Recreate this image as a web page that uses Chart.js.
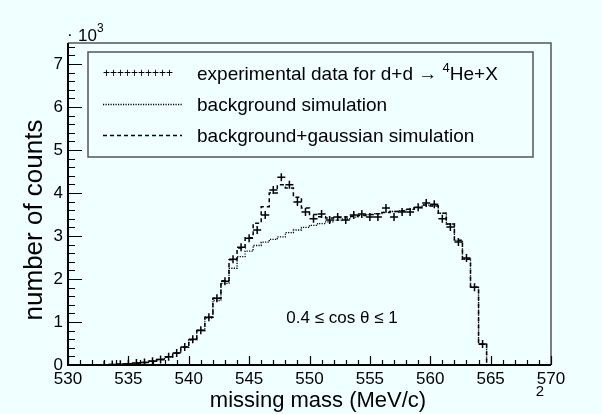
<!DOCTYPE html>
<html>
<head>
<meta charset="utf-8">
<script src="https://cdn.jsdelivr.net/npm/chart.js@4.4.0/dist/chart.umd.min.js"></script>
<style>
  html, body { margin: 0; padding: 0; background: #f0ffff; }
  #wrap { width: 602px; height: 414px; }
</style>
</head>
<body>
<div id="wrap"><canvas id="massChart" width="602" height="414"></canvas></div>
<script>
// histogram: 60 bins of 2/3 MeV between 530 and 570 MeV
const binLow = 530;
const binHigh = 570;
const nBins = 60;

// experimental counts per bin
const dataCounts = [
  0, 0, 0, 0, 5, 10, 18, 30, 45, 60,
  90, 130, 190, 280, 420, 600, 810, 1110, 1550, 1950,
  2460, 2740, 2950, 3140, 3490, 4070, 4370, 4190, 3790, 3560,
  3400, 3510, 3370, 3440, 3370, 3490, 3510, 3440, 3440, 3650,
  3440, 3560, 3560, 3670, 3770, 3740, 3400, 3210, 2860, 2490,
  1810, 490, 0, 0, 0, 0, 0, 0, 0, 0
];

// background + gaussian simulation
const bgGausCounts = [
  0, 0, 0, 0, 4, 9, 17, 28, 42, 60,
  88, 128, 188, 278, 410, 590, 800, 1110, 1550, 1960,
  2450, 2720, 2960, 3300, 3680, 4000, 4190, 4120, 3900, 3650,
  3500, 3450, 3420, 3430, 3440, 3460, 3480, 3500, 3520, 3550,
  3570, 3590, 3620, 3660, 3720, 3700, 3530, 3280, 2900, 2460,
  1810, 480, 0, 0, 0, 0, 0, 0, 0, 0
];

// background only simulation
const bgCounts = [
  0, 0, 0, 0, 4, 9, 17, 28, 42, 60,
  88, 128, 188, 278, 410, 590, 800, 1090, 1500, 1900,
  2250, 2520, 2650, 2780, 2860, 2920, 2980, 3080, 3140, 3200,
  3250, 3290, 3330, 3370, 3400, 3440, 3480, 3500, 3520, 3550,
  3570, 3590, 3620, 3660, 3720, 3700, 3530, 3280, 2900, 2460,
  1810, 480, 0, 0, 0, 0, 0, 0, 0, 0
];

const xTicks = [530, 535, 540, 545, 550, 555, 560, 565, 570];
const yTicks = [0, 1000, 2000, 3000, 4000, 5000, 6000, 7000];
const yMax = 7490;

const fontFamily = '"Liberation Sans", Arial, Helvetica, sans-serif';
const binWidth = (binHigh - binLow) / nBins;

// step outline: one point per bin low edge, plus the closing edge
function stepPoints(vals) {
  const pts = vals.map((v, k) => ({ x: binLow + k * binWidth, y: v }));
  pts.push({ x: binHigh, y: vals[vals.length - 1] });
  return pts;
}

const crossPoints = dataCounts.map((v, k) => ({ x: binLow + (k + 0.5) * binWidth, y: v }));

// frame, inward ticks, legend and free texts (ROOT look)
const rootDecor = {
  id: 'rootDecor',
  afterDatasetsDraw(chart) {
    const { ctx, chartArea: a, scales } = chart;
    const xs = scales.x, ys = scales.y;
    ctx.save();

    // frame
    ctx.strokeStyle = '#555';
    ctx.lineWidth = 1.5;
    ctx.beginPath();
    ctx.moveTo(a.left, a.top);
    ctx.lineTo(a.right, a.top);
    ctx.lineTo(a.right, a.bottom);
    ctx.stroke();
    ctx.strokeStyle = '#000';
    ctx.lineWidth = 2;
    ctx.beginPath();
    ctx.moveTo(a.left, a.top);
    ctx.lineTo(a.left, a.bottom);
    ctx.lineTo(a.right, a.bottom);
    ctx.stroke();

    // ticks
    ctx.lineWidth = 1.2;
    ctx.beginPath();
    for (let v = binLow; v <= binHigh; v += 1) {
      const px = Math.round(xs.getPixelForValue(v)) + 0.5;
      const len = v % 5 === 0 ? 9 : 5;
      ctx.moveTo(px, a.bottom);
      ctx.lineTo(px, a.bottom - len);
    }
    for (let v = 0; v <= yMax; v += 200) {
      const py = Math.round(ys.getPixelForValue(v)) + 0.5;
      const len = v % 1000 === 0 ? 14 : 7;
      ctx.moveTo(a.left, py);
      ctx.lineTo(a.left + len, py);
    }
    ctx.stroke();

    // legend
    ctx.strokeStyle = '#555';
    ctx.lineWidth = 1.5;
    ctx.strokeRect(88, 52, 445, 105);
    ctx.fillStyle = '#000';
    ctx.textBaseline = 'alphabetic';
    ctx.font = '12px ' + fontFamily;
    ctx.fillText('++++++++++', 103, 77);
    ctx.strokeStyle = '#000';
    ctx.lineWidth = 1.3;
    ctx.setLineDash([1.2, 1.3]);
    ctx.beginPath();
    ctx.moveTo(103, 104.5);
    ctx.lineTo(182, 104.5);
    ctx.stroke();
    ctx.setLineDash([4, 3]);
    ctx.lineWidth = 1.5;
    ctx.beginPath();
    ctx.moveTo(103, 135.5);
    ctx.lineTo(182, 135.5);
    ctx.stroke();
    ctx.setLineDash([]);

    ctx.font = '19px ' + fontFamily;
    let tx = 197;
    const part1 = 'experimental data for d+d \u2192 ';
    ctx.fillText(part1, tx, 80);
    tx += ctx.measureText(part1).width;
    ctx.font = '13px ' + fontFamily;
    ctx.fillText('4', tx, 72);
    tx += ctx.measureText('4').width;
    ctx.font = '19px ' + fontFamily;
    ctx.fillText('He+X', tx, 80);
    ctx.fillText('background simulation', 197, 111);
    ctx.fillText('background+gaussian simulation', 197, 142);

    // exponent above y axis
    ctx.font = '17px ' + fontFamily;
    ctx.fillText('\u00b7', 67, 40);
    ctx.fillText('10', 78, 41);
    ctx.font = '12px ' + fontFamily;
    ctx.fillText('3', 97, 32);

    // cut annotation
    ctx.font = '17px ' + fontFamily;
    ctx.textAlign = 'center';
    ctx.fillText('0.4 \u2264 cos \u03b8 \u2264 1', 342, 323);

    // axis titles
    ctx.font = '22px ' + fontFamily;
    ctx.fillText('missing mass (MeV/c)', 318, 407);
    ctx.font = '15px ' + fontFamily;
    ctx.fillText('2', 540, 396);
    ctx.save();
    ctx.translate(42, 220);
    ctx.rotate(-Math.PI / 2);
    ctx.font = '26px ' + fontFamily;
    ctx.fillText('number of counts', 0, 0);
    ctx.restore();

    ctx.restore();
  }
};

new Chart(document.getElementById('massChart'), {
  type: 'scatter',
  data: {
    datasets: [
      {
        label: 'background simulation',
        data: stepPoints(bgCounts),
        showLine: true,
        stepped: true,
        borderColor: '#000',
        borderWidth: 1.3,
        borderDash: [1.2, 1.3],
        pointRadius: 0,
        fill: false
      },
      {
        label: 'background+gaussian simulation',
        data: stepPoints(bgGausCounts),
        showLine: true,
        stepped: true,
        borderColor: '#000',
        borderWidth: 1.5,
        borderDash: [4, 3],
        pointRadius: 0,
        fill: false
      },
      {
        label: 'experimental data',
        data: crossPoints,
        showLine: false,
        pointStyle: 'cross',
        pointRadius: ctx => (ctx.raw && ctx.raw.y > 0 ? 4 : 0),
        borderColor: '#000',
        borderWidth: 1.5
      }
    ]
  },
  options: {
    responsive: false,
    animation: false,
    layout: { padding: { left: 0, top: 43, right: 51, bottom: 0 } },
    plugins: {
      legend: { display: false },
      tooltip: { enabled: false }
    },
    scales: {
      x: {
        type: 'linear',
        min: binLow,
        max: binHigh,
        afterBuildTicks: scale => { scale.ticks = xTicks.map(v => ({ value: v })); },
        afterFit: scale => { scale.height = 49; },
        grid: { display: false, drawTicks: false },
        border: { display: false },
        ticks: {
          padding: 4,
          maxRotation: 0,
          autoSkip: false,
          color: '#000',
          font: { family: fontFamily, size: 17 }
        }
      },
      y: {
        type: 'linear',
        min: 0,
        max: yMax,
        afterBuildTicks: scale => { scale.ticks = yTicks.map(v => ({ value: v })); },
        afterFit: scale => { scale.width = 68; },
        grid: { display: false, drawTicks: false },
        border: { display: false },
        ticks: {
          padding: 5,
          autoSkip: false,
          color: '#000',
          font: { family: fontFamily, size: 17 },
          callback: v => String(v / 1000)
        }
      }
    }
  },
  plugins: [rootDecor]
});
</script>
</body>
</html>
